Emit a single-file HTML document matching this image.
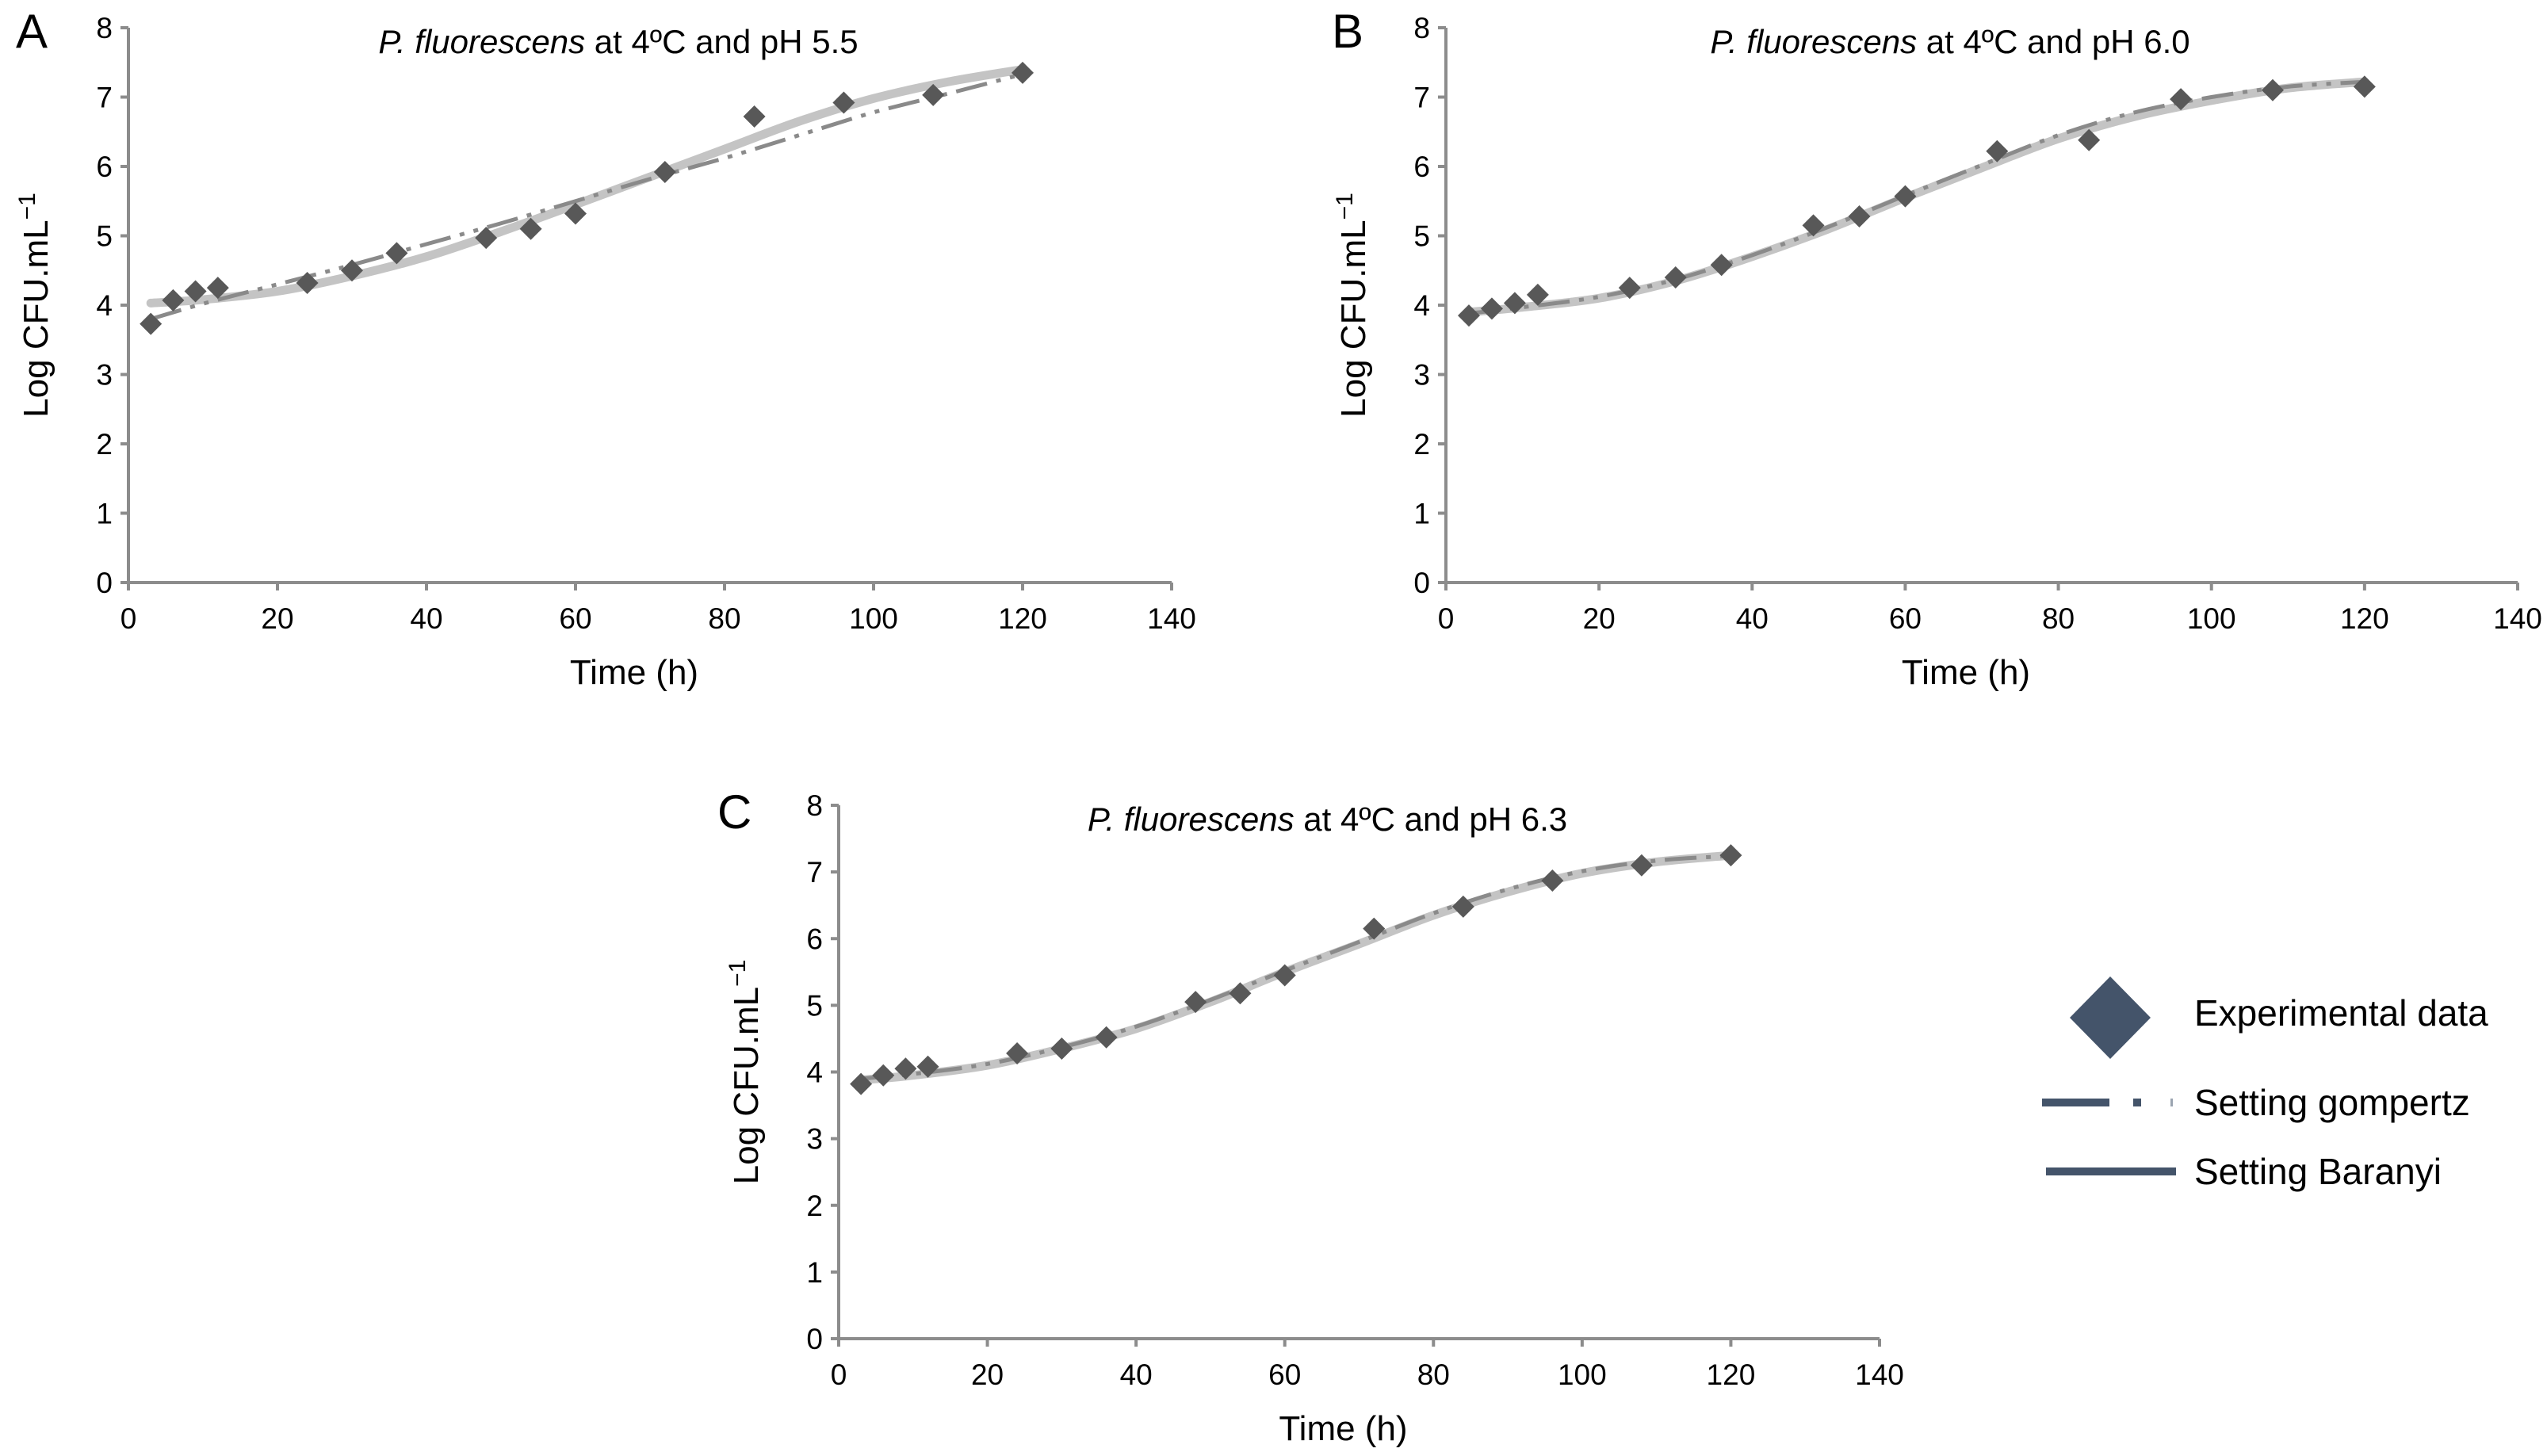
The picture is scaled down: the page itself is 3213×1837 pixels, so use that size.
<!DOCTYPE html>
<html><head><meta charset="utf-8"><style>
html,body{margin:0;padding:0;background:#fff;}
svg{display:block;font-family:"Liberation Sans",sans-serif;}
</style></head><body>
<svg id="fig" width="3213" height="1837" viewBox="0 0 3213 1837" xmlns="http://www.w3.org/2000/svg">
<g>
  <polygon points="2662,1232 2713,1284 2662,1336 2611,1284" fill="#44546a"/>
  <text x="2768" y="1294" font-size="46" fill="#000">Experimental data</text>
  <line x1="2576" y1="1391" x2="2661" y2="1391" stroke="#44546a" stroke-width="10"/>
  <rect x="2691" y="1386" width="10" height="10" fill="#44546a"/>
  <rect x="2738" y="1386" width="3" height="10" fill="#9aa4b0"/>
  <text x="2768" y="1407" font-size="46" fill="#000">Setting gompertz</text>
  <line x1="2581" y1="1478" x2="2745" y2="1478" stroke="#44546a" stroke-width="10"/>
  <text x="2768" y="1494" font-size="46" fill="#000">Setting Baranyi</text>
</g>
</svg>
<script>
const times = [3,6,9,12,24,30,36,48,54,60,72,84,96,108,120];
const obsA = [3.73,4.07,4.2,4.25,4.32,4.5,4.75,4.97,5.1,5.32,5.92,6.72,6.92,7.03,7.35];
const obsB = [3.85,3.95,4.03,4.15,4.25,4.4,4.58,5.15,5.28,5.57,6.22,6.38,6.97,7.1,7.15];
const obsC = [3.82,3.95,4.05,4.08,4.28,4.35,4.52,5.05,5.18,5.45,6.15,6.48,6.87,7.1,7.25];
const fitTimes = [3,10,20,30,40,50,60,70,80,90,100,110,120];
const baranyiA = [4.03,4.08,4.2,4.42,4.7,5.06,5.45,5.85,6.25,6.65,6.98,7.22,7.4];
const gompertzA = [3.8,4.02,4.3,4.58,4.88,5.18,5.5,5.82,6.12,6.45,6.78,7.05,7.33];
const baranyiB = [3.9,3.97,4.1,4.35,4.7,5.1,5.55,5.98,6.4,6.72,6.95,7.13,7.22];
const gompertzB = [3.88,3.97,4.12,4.37,4.72,5.13,5.58,6.02,6.45,6.78,7.0,7.15,7.22];
const baranyiC = [3.88,3.95,4.1,4.35,4.65,5.05,5.5,5.92,6.35,6.7,6.98,7.15,7.25];
const gompertzC = [3.9,3.97,4.12,4.37,4.68,5.08,5.52,5.95,6.38,6.74,7.01,7.17,7.24];
const xTicks = [0,20,40,60,80,100,120,140];
const yTicks = [0,1,2,3,4,5,6,7,8];
const panels = [
 {id:'a',letter:'A',ph:'5.5',obs:obsA,bar:baranyiA,gom:gompertzA,x0:162,x1:1478,y0:735,y8:35,lx:20,ly:60},
 {id:'b',letter:'B',ph:'6.0',obs:obsB,bar:baranyiB,gom:gompertzB,x0:1824,x1:3176,y0:735,y8:35,lx:1680,ly:60},
 {id:'c',letter:'C',ph:'6.3',obs:obsC,bar:baranyiC,gom:gompertzC,x0:1058,x1:2371,y0:1689,y8:1016,lx:905,ly:1045}
];
const NS='http://www.w3.org/2000/svg';
const svg=document.getElementById('fig');
function mk(tag,attrs,parent){const e=document.createElementNS(NS,tag);for(const k in attrs)e.setAttribute(k,attrs[k]);parent.appendChild(e);return e;}
function smooth(pts){let d='M'+pts[0][0]+','+pts[0][1];for(let i=0;i<pts.length-1;i++){const p0=pts[i-1]||pts[i],p1=pts[i],p2=pts[i+1],p3=pts[i+2]||p2;const c1=[p1[0]+(p2[0]-p0[0])/6,p1[1]+(p2[1]-p0[1])/6],c2=[p2[0]-(p3[0]-p1[0])/6,p2[1]-(p3[1]-p1[1])/6];d+=' C'+c1+' '+c2+' '+p2;}return d;}
panels.forEach(p=>{
 const xs=t=>p.x0+(p.x1-p.x0)*t/140;
 const ys=v=>p.y0-(p.y0-p.y8)*v/8;
 const g=mk('g',{},svg);
 
 
 const L=mk('text',{x:p.lx,y:p.ly,'font-size':60,fill:'#000'},g);L.textContent=p.letter;
 
 
 const T=mk('text',{x:(p.x0+p.x1)/2-40,y:p.y8+32,'font-size':42,'text-anchor':'middle',fill:'#000'},g);
 
 
 const ts=mk('tspan',{'font-style':'italic'},T);ts.textContent='P. fluorescens';
 const ts2=mk('tspan',{},T);ts2.textContent=' at 4ºC and pH '+p.ph;
 const ax=mk('path',{d:'M'+p.x0+','+p.y8+' V'+p.y0+' H'+p.x1,stroke:'#8c8c8c','stroke-width':4,fill:'none'},g);
 
 
 yTicks.forEach(v=>{
  mk('line',{x1:p.x0-10,x2:p.x0,y1:ys(v),y2:ys(v),stroke:'#8c8c8c','stroke-width':4},g);
  const t=mk('text',{x:p.x0-20,y:ys(v)+13,'font-size':37,'text-anchor':'end',fill:'#000'},g);t.textContent=v;
  
  
 });
 xTicks.forEach(v=>{
  mk('line',{x1:xs(v),x2:xs(v),y1:p.y0,y2:p.y0+10,stroke:'#8c8c8c','stroke-width':4},g);
  const t=mk('text',{x:xs(v),y:p.y0+58,'font-size':37,'text-anchor':'middle',fill:'#000'},g);t.textContent=v;
  
  
 });
 const xt=mk('text',{x:(p.x0+p.x1)/2-20,y:p.y0+128,'font-size':44,'text-anchor':'middle',fill:'#000'},g);xt.textContent='Time (h)';
 
 
 const cy=(p.y0+p.y8)/2, cx=p.x0-102;
 const yt=mk('text',{x:cx,y:cy,'font-size':44,'text-anchor':'middle',fill:'#000',transform:'rotate(-90 '+cx+' '+cy+')'},g);
 
 
 const y1=mk('tspan',{},yt);y1.textContent='Log CFU.mL';
 const y2=mk('tspan',{dy:-16,'font-size':30},yt);y2.textContent='−1';
 const bp=mk('path',{d:smooth(fitTimes.map((t,i)=>[xs(t),ys(p.bar[i])])),stroke:'#c4c4c4','stroke-width':11,fill:'none','stroke-linecap':'round'},g);
 
 
 const gp=mk('path',{d:smooth(fitTimes.map((t,i)=>[xs(t),ys(p.gom[i])])),stroke:'#8a8a8a','stroke-width':5,fill:'none','stroke-dasharray':'40 12 6 12 6 12'},g);
 
 
 times.forEach((t,i)=>{
  const x=xs(t),y=ys(p.obs[i]),r=14;
  const d=mk('polygon',{points:[x,y-r,x+r,y,x,y+r,x-r,y].join(','),fill:'#585858'},g);
  
  
 });
});
</script>
</body></html>
